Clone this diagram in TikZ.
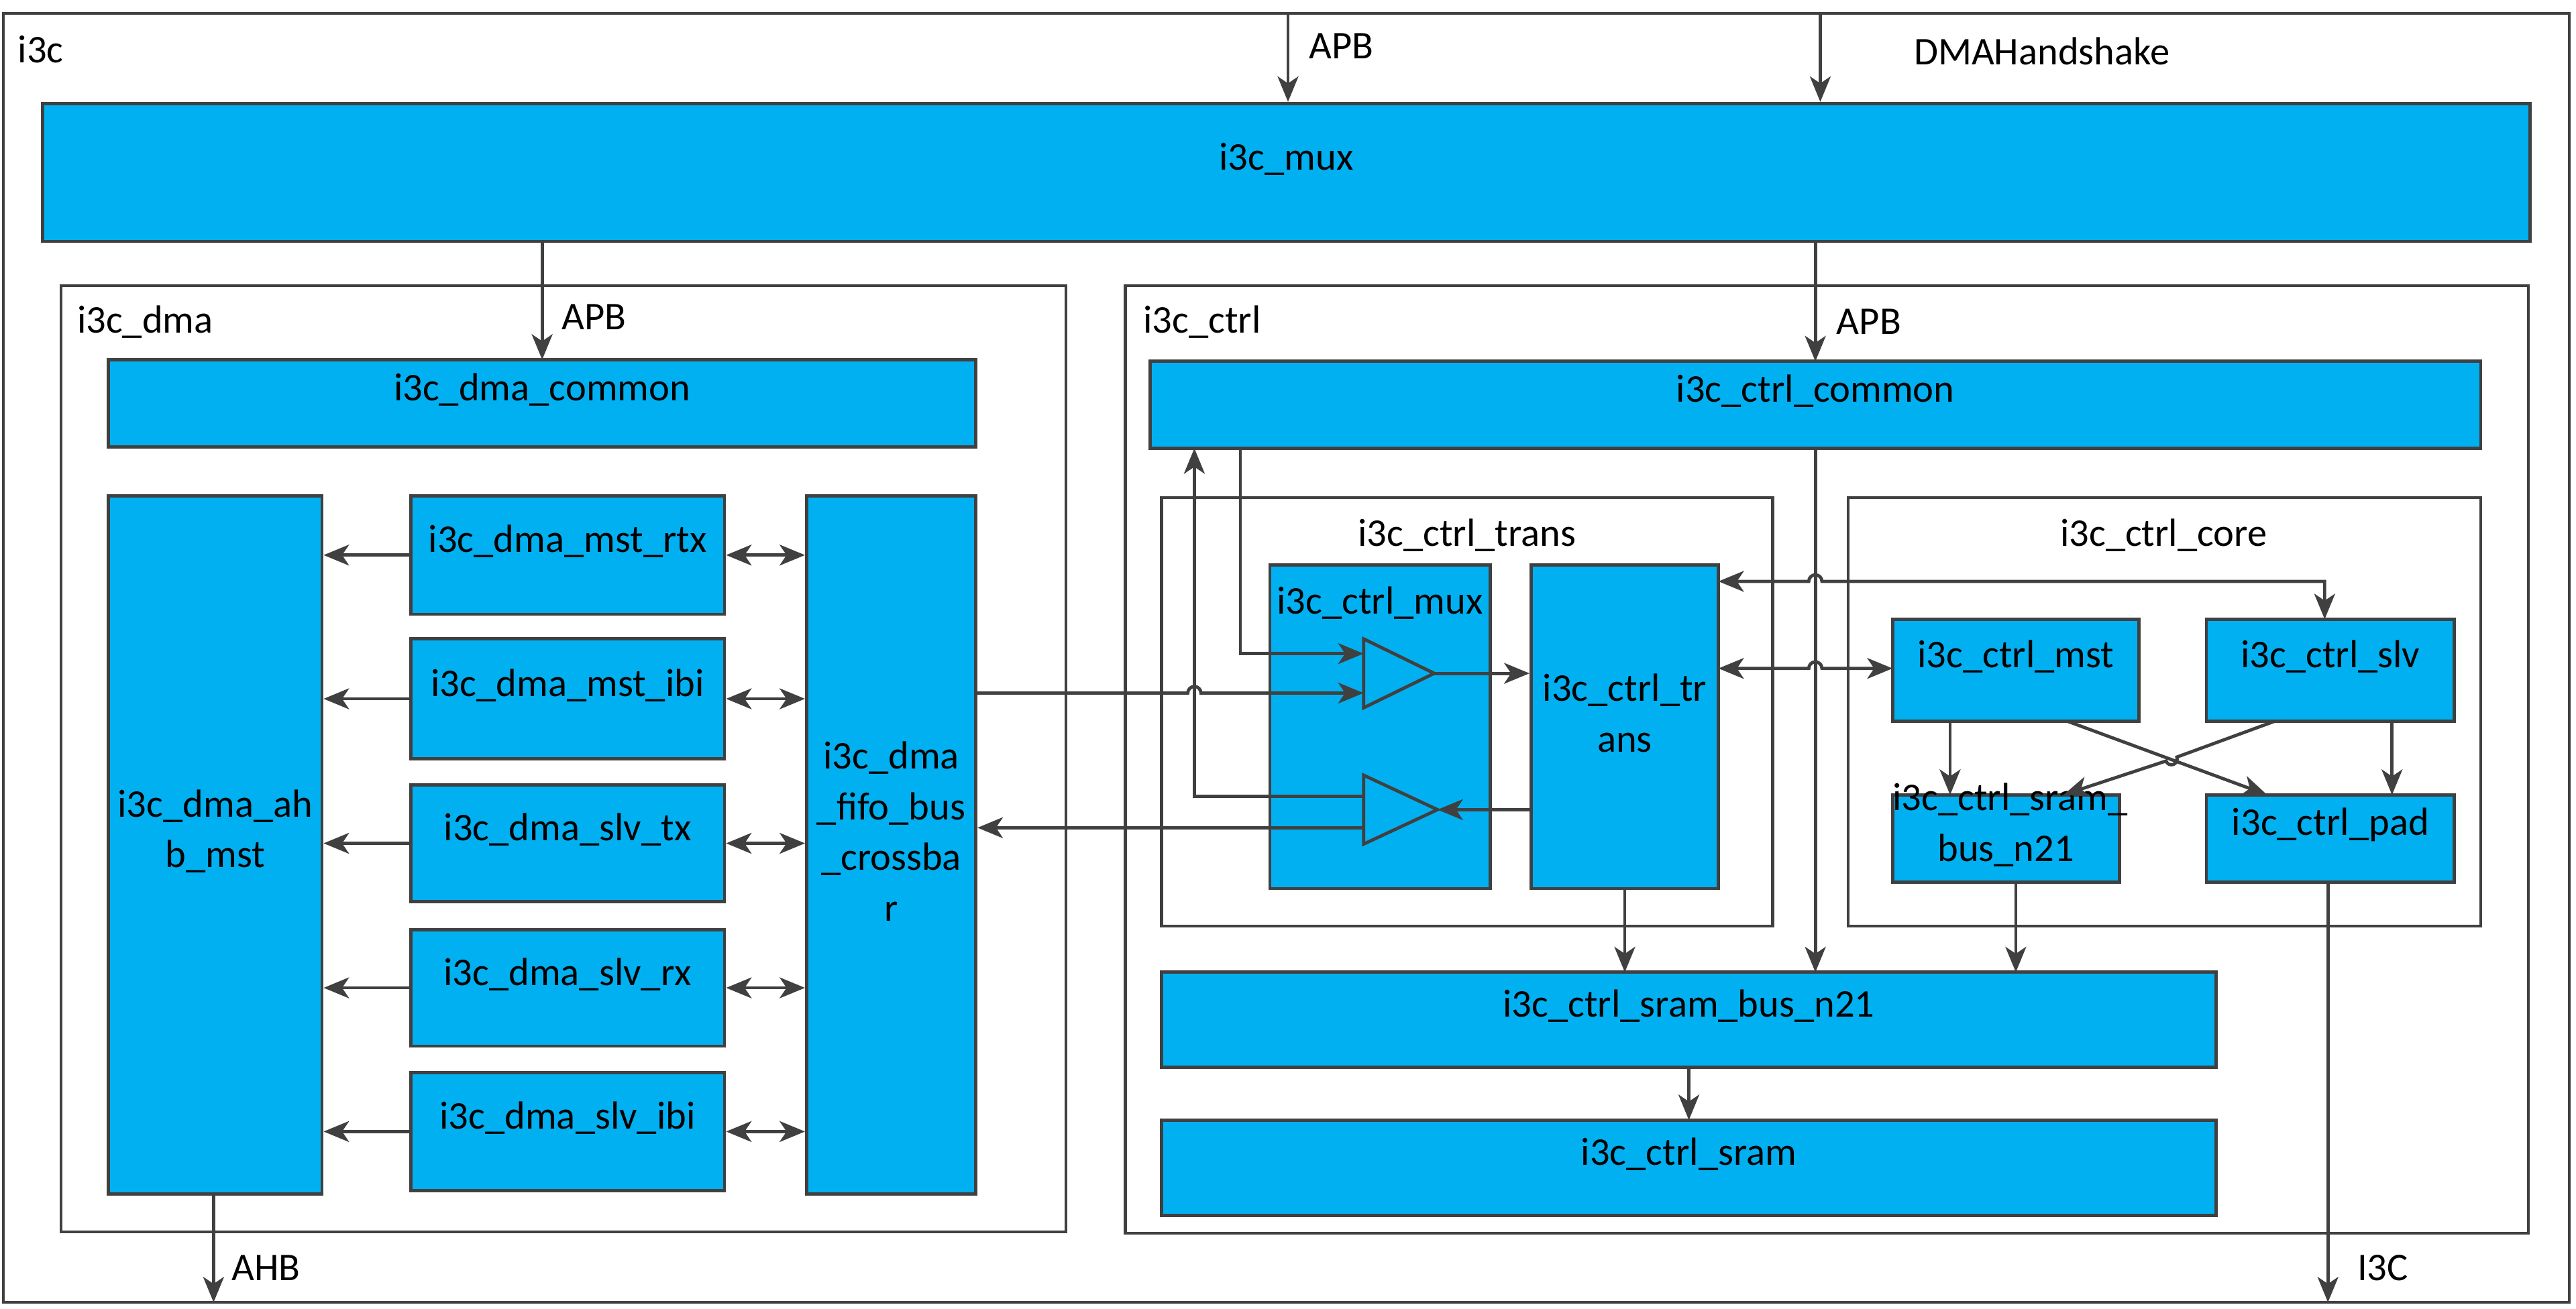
\documentclass[tikz,border=0pt]{standalone}
\usepackage{fontspec}
\setmainfont{Carlito}
\usetikzlibrary{arrows.meta,fit}
\definecolor{blkblue}{HTML}{00B0F0}
\definecolor{wire}{HTML}{404040}
\tikzstyle{blk} = [draw=wire, line width=1.4pt, rectangle, fill=blkblue, inner sep=0pt, align=center, font=\fontsize{17}{22}\selectfont]
\tikzstyle{frame} = [draw=wire, line width=1.2pt, rectangle, inner sep=0pt]
\tikzstyle{lbl} = [font=\fontsize{17}{22}\selectfont, anchor=west]
\tikzstyle{wr} = [draw=wire, line width=1.4pt, -{Stealth[length=11pt,width=9pt,inset=3pt]}]
\tikzstyle{wrr} = [draw=wire, line width=1.4pt, {Stealth[length=11pt,width=9pt,inset=3pt]}-{Stealth[length=11pt,width=9pt,inset=3pt]}]

\begin{document}
\begin{tikzpicture}[x=0.025cm, y=-0.025cm]
    \useasboundingbox (0,0) rectangle (1568,797);
    % frames
    \node [frame, fit={(2,8)(1564,793)}] (top) {};
    \node [lbl] at (6,30) {i3c};
    \node [frame, fit={(37,174)(649,750)}] (dmaf) {};
    \node [lbl] at (42,196) {i3c\_dma};
    \node [frame, fit={(685,174)(1539,751)}] (ctrlf) {};
    \node [lbl] at (691,196) {i3c\_ctrl};
    \node [frame, fit={(707,303)(1079,564)}] (transf) {};
    \node [lbl, anchor=center] at (893,326) {i3c\_ctrl\_trans};
    \node [frame, fit={(1125,303)(1510,564)}] (coref) {};
    \node [lbl, anchor=center] at (1317,326) {i3c\_ctrl\_core};

    % blocks
    \node [blk, fit={(26,63)(1540,147)}] (mux) {i3c\_mux};
    \node [blk, fit={(66,219)(594,272)}] (dmacom) {i3c\_dma\_common};
    \node [blk, fit={(66,302)(196,727)}] (ahb) {i3c\_dma\_ah\\b\_mst};
    \node [blk, fit={(250,302)(441,374)}] (rtx) {i3c\_dma\_mst\_rtx};
    \node [blk, fit={(250,389)(441,462)}] (mibi) {i3c\_dma\_mst\_ibi};
    \node [blk, fit={(250,478)(441,549)}] (stx) {i3c\_dma\_slv\_tx};
    \node [blk, fit={(250,566)(441,637)}] (srx) {i3c\_dma\_slv\_rx};
    \node [blk, fit={(250,653)(441,725)}] (sibi) {i3c\_dma\_slv\_ibi};
    \node [blk, fit={(491,302)(594,727)}] (xbar) {i3c\_dma\\\_fifo\_bus\\\_crossba\\r};
    \node [blk, fit={(700,220)(1510,273)}] (ctrlcom) {i3c\_ctrl\_common};
    \node [blk, fit={(773,344)(907,541)}] (cmux) {};
    \node [font=\fontsize{17}{22}\selectfont] at (840,367) {i3c\_ctrl\_mux};
    \node [blk, fit={(932,344)(1046,541)}] (trans) {i3c\_ctrl\_tr\\ans};
    \node [blk, fit={(1152,377)(1302,439)}] (mst) {i3c\_ctrl\_mst};
    \node [blk, fit={(1343,377)(1494,439)}] (slv) {i3c\_ctrl\_slv};
    \node [blk, fit={(1152,484)(1290,537)}] (csn) {i3c\_ctrl\_sram\_\\bus\_n21};
    \node [blk, fit={(1343,484)(1494,537)}] (pad) {i3c\_ctrl\_pad};
    \node [blk, fit={(707,592)(1349,650)}] (sbus) {i3c\_ctrl\_sram\_bus\_n21};
    \node [blk, fit={(707,682)(1349,740)}] (sram) {i3c\_ctrl\_sram};

    % mux triangles
    \draw [draw=wire, line width=1.4pt] (830,389) -- (873,410) -- (830,431) -- cycle;
    \draw [draw=wire, line width=1.4pt] (830,472) -- (875,493) -- (830,514) -- cycle;
    \coordinate (t1a) at (830,398);
    \coordinate (t1b) at (830,422);
    \coordinate (t1o) at (873,410);
    \coordinate (t2a) at (830,485);
    \coordinate (t2b) at (830,504);
    \coordinate (t2o) at (875,493);

    % top level
    \coordinate (apbin) at (784,8);
    \coordinate (dmain) at (1108,8);
    \draw [wr] (apbin) -- (apbin |- mux.north);
    \draw [wr] (dmain) -- (dmain |- mux.north);
    \node [lbl] at (792,28) {APB};
    \node [lbl] at (1160,31) {DMA\\Handshake};
    \node [lbl, align=left] at (1160,31) {\phantom{x}};
    \draw [wr] (330,147) -- (330,219);
    \node [lbl] at (337,193) {APB};
    \draw [wr] (1105,147) -- (1105,220);
    \node [lbl] at (1113,196) {APB};

    % dma
    \foreach \b in {rtx,mibi,stx,srx,sibi}{
        \draw [wr] (\b.west) -- (\b.west -| ahb.east);
        \draw [wrr] (\b.east) -- (\b.east -| xbar.west);
    }
    \coordinate (ahbout) at (130,793);
    \draw [wr] (130,727) -- (ahbout);
    \node [lbl] at (136,772) {AHB};

    % ctrl trans
    \draw [wr] (755,273) -- (755,398) -- (t1a);
    \draw [wr] (594,422) -- (723,422) arc(180:360:4) -- (t1b);
    \draw [wr] (t1o) -- (t1o -| trans.west);
    \draw [wr] (t2o -| trans.west) -- (t2o);
    \draw [wr] (t2a) -- (727,485) -- (727,273);
    \draw [wr] (t2b) -- (xbar.east |- t2b);
    \draw [wrr] (1046,354) -- (1101,354) arc(180:360:4) -- (1415,354) -- (1415,377);
    \draw [wrr] (1046,407) -- (1101,407) arc(180:360:4) -- (1152,407);

    % ctrl core
    \draw [wr] (1187,439) -- (1187,484);
    \draw [wr] (1456,439) -- (1456,484);
    \draw [wr] (1258,439) -- (1380,484);
    \draw [wr] (1385,439) -- (1325,461) arc(-20:160:3.5) -- (1256,484);
    \coordinate (i3cout) at (1417,793);
    \draw [wr] (1417,537) -- (i3cout);
    \node [lbl] at (1430,772) {I3C};

    % sram
    \draw [wr] (989,541) -- (989,592);
    \draw [wr] (1105,273) -- (1105,592);
    \draw [wr] (1227,537) -- (1227,592);
    \draw [wr] (1028,650) -- (1028,682);
\end{tikzpicture}
\end{document}
